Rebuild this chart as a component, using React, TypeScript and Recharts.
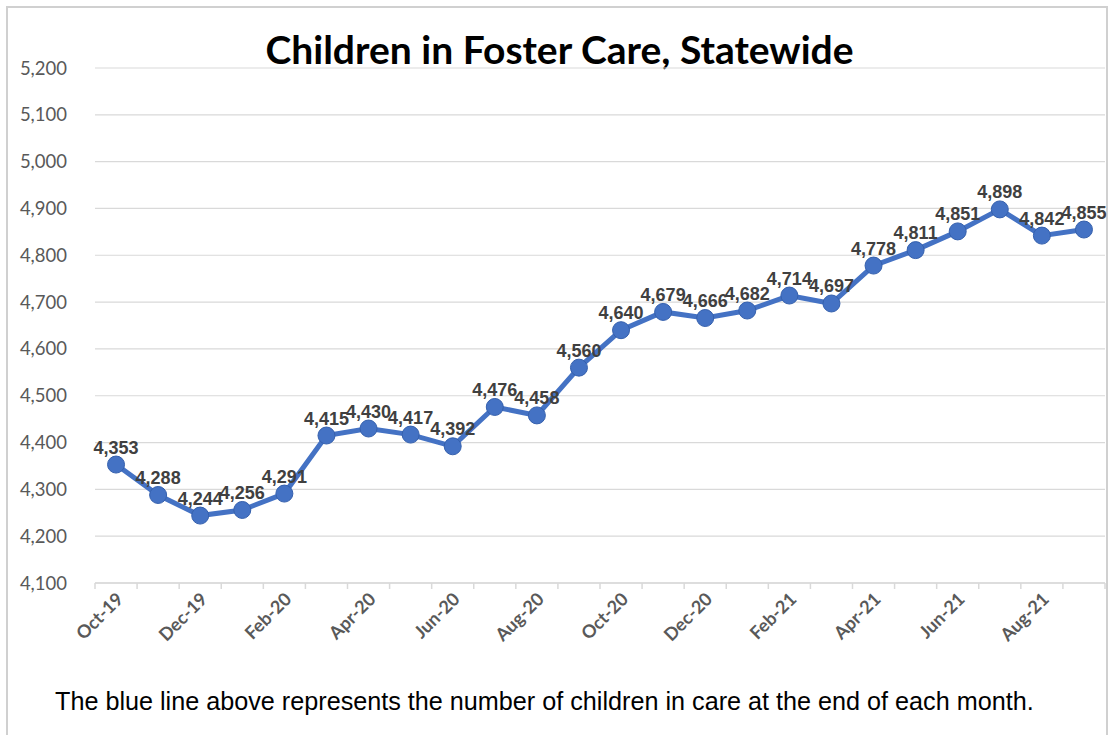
import React from "react";
import { LineChart, Line, XAxis, YAxis, CartesianGrid, LabelList } from "recharts";

const months = [
  "Oct-19", "Nov-19", "Dec-19", "Jan-20", "Feb-20", "Mar-20", "Apr-20", "May-20",
  "Jun-20", "Jul-20", "Aug-20", "Sep-20", "Oct-20", "Nov-20", "Dec-20", "Jan-21",
  "Feb-21", "Mar-21", "Apr-21", "May-21", "Jun-21", "Jul-21", "Aug-21", "Sep-21",
];
const children = [
  4353, 4288, 4244, 4256, 4291, 4415, 4430, 4417, 4392, 4476, 4458, 4560,
  4640, 4679, 4666, 4682, 4714, 4697, 4778, 4811, 4851, 4898, 4842, 4855,
];
const yTicks = [4100, 4200, 4300, 4400, 4500, 4600, 4700, 4800, 4900, 5000, 5100, 5200];

const data = months.map((m, i) => ({ month: m, count: children[i] }));

const W = 1119;
const H = 680;
const M = { top: 68, right: 14, bottom: 0, left: 0 };
const Y_W = 95;
const BAND = (W - M.left - M.right - Y_W) / months.length;

const BLUE = "#4472C4";
const fmt = (v: any) => Number(v).toLocaleString("en-US");

// ticks sit between categories like Excel, labels on every other month
const XTick = ({ x, y, payload, index }: any) => (
  <g>
    <line x1={x - BAND / 2} x2={x - BAND / 2} y1={y} y2={y + 6} stroke="#d9d9d9" strokeWidth={1.5} />
    {index === months.length - 1 && (
      <line x1={x + BAND / 2} x2={x + BAND / 2} y1={y} y2={y + 6} stroke="#d9d9d9" strokeWidth={1.5} />
    )}
    {index % 2 === 0 && (
      <text
        x={x + 5}
        y={y + 14}
        transform={`rotate(-45 ${x + 5} ${y + 14})`}
        textAnchor="end"
        dominantBaseline="middle"
        fontSize={18}
        fontWeight="bold"
        fill="#595959"
        fontFamily="Lato, sans-serif"
      >
        {payload.value}
      </text>
    )}
  </g>
);

const Dot = ({ cx, cy }: any) => (
  <circle cx={cx} cy={cy} r={8.5} fill={BLUE} stroke="#3560ad" strokeWidth={1} />
);

export default function App() {
  return (
    <div
      style={{
        position: "fixed",
        left: 0,
        top: 0,
        width: W,
        height: 735,
        overflow: "hidden",
        background: "#fff",
        fontFamily: "'Liberation Sans', Arial, sans-serif",
      }}
    >
      <div
        style={{
          position: "absolute",
          left: 6,
          top: 6,
          width: 1102,
          height: 760,
          borderLeft: "2px solid #d0d0d0",
          borderTop: "2px solid #d0d0d0",
          borderRight: "2px solid #d0d0d0",
          boxSizing: "border-box",
        }}
      />
      <div
        style={{
          position: "absolute",
          left: 0,
          width: W,
          top: 28,
          textAlign: "center",
          fontSize: 39,
          lineHeight: "42px",
          fontWeight: "bold",
          color: "#000",
          fontFamily: "Lato, sans-serif",
        }}
      >
        Children in Foster Care, Statewide
      </div>
      <div style={{ position: "absolute", left: 0, top: 0 }}>
        <LineChart width={W} height={H} data={data} margin={M}>
          <CartesianGrid vertical={false} stroke="#d9d9d9" strokeWidth={1.2} />
          <XAxis
            dataKey="month"
            interval={0}
            tickSize={0}
            tickMargin={0}
            tickLine={false}
            padding={{ left: BAND / 2, right: BAND / 2 }}
            axisLine={{ stroke: "#d9d9d9", strokeWidth: 1.5 }}
            tick={<XTick />}
            height={H - M.top - 515}
          />
          <YAxis
            domain={[4100, 5200]}
            ticks={yTicks}
            width={Y_W}
            axisLine={false}
            tickLine={false}
            tickMargin={22}
            tickFormatter={fmt}
            tick={{ fontSize: 18.5, fill: "#595959", fontFamily: "Lato, sans-serif" }}
          />
          <Line
            type="linear"
            dataKey="count"
            stroke={BLUE}
            strokeWidth={5}
            dot={<Dot />}
            activeDot={false}
            isAnimationActive={false}
          >
            <LabelList
              dataKey="count"
              position="top"
              offset={11}
              formatter={fmt}
              style={{ fontSize: 18, fontWeight: "bold", fill: "#404040", fontFamily: "'Liberation Sans', Arial, sans-serif" }}
            />
          </Line>
        </LineChart>
      </div>
      <div
        style={{
          position: "absolute",
          left: 55,
          top: 687,
          fontSize: 25.2,
          color: "#000",
          fontFamily: "'Liberation Sans', Arial, sans-serif",
          whiteSpace: "nowrap",
        }}
      >
        The blue line above represents the number of children in care at the end of each month.
      </div>
    </div>
  );
}
